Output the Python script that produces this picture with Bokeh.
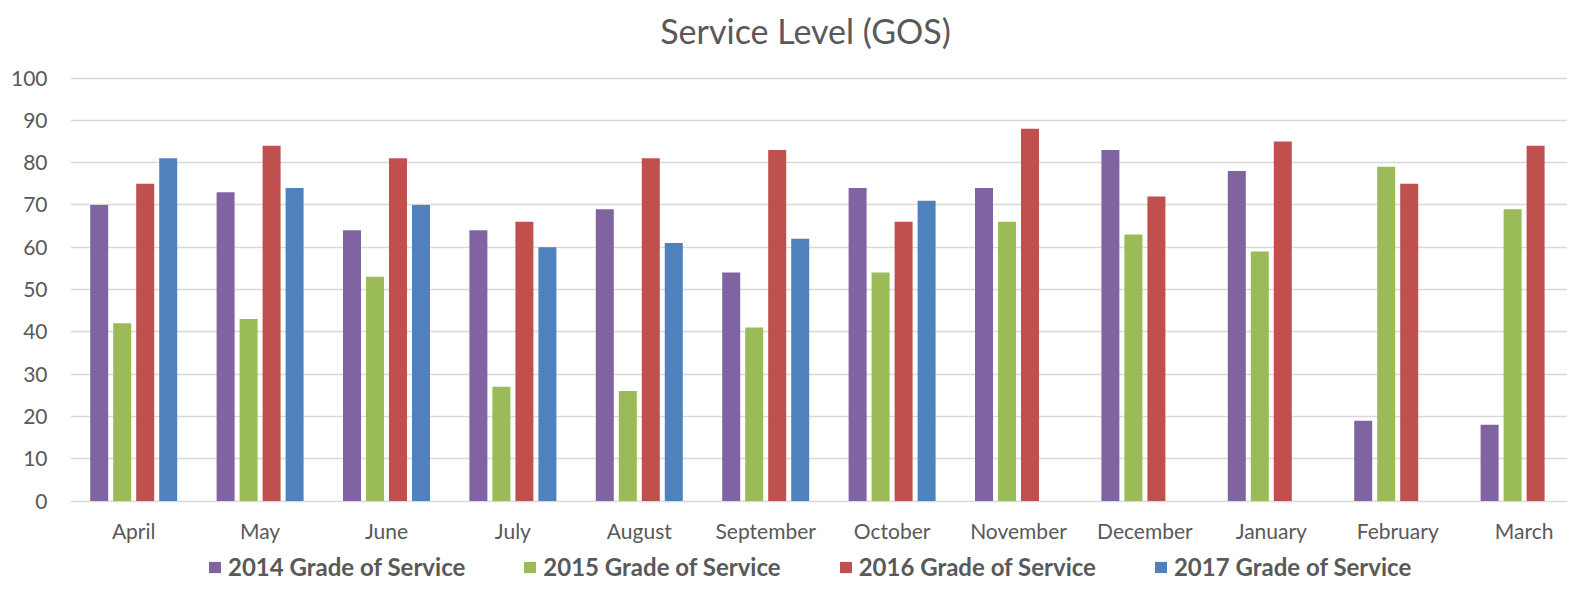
from bokeh.plotting import figure
from bokeh.models import (ColumnDataSource, Range1d, FixedTicker, Legend, LegendItem)
from bokeh.transform import dodge
from bokeh.core.properties import value
from bokeh.embed import file_html
from bokeh.resources import INLINE

NaN = float("nan")

months = ["April", "May", "June", "July", "August", "September",
          "October", "November", "December", "January", "February", "March"]
gos_2014 = [70, 73, 64, 64, 69, 54, 74, 74, 83, 78, 19, 18]
gos_2015 = [42, 43, 53, 27, 26, 41, 54, 66, 63, 59, 79, 69]
gos_2016 = [75, 84, 81, 66, 81, 83, 66, 88, 72, 85, 75, 84]
gos_2017 = [81, 74, 70, 60, 61, 62, 71, NaN, NaN, NaN, NaN, NaN]
series_names = ["2014 Grade of Service", "2015 Grade of Service",
                "2016 Grade of Service", "2017 Grade of Service"]
y_ticks = [0, 10, 20, 30, 40, 50, 60, 70, 80, 90, 100]
title_text = "Service Level (GOS)"

colors = ["#8064A2", "#9BBB59", "#C0504D", "#4F81BD"]
text_color = "#595959"
grid_color = "#D9D9D9"
FONT = "Lato"

# layout (pixels)
W, H = 1567, 582
LEFT = 70                 # space for the y axis
CAT_PX = 126.4            # width of one month category
PX_PER_UNIT = 423 / 100   # 0..100 spans 423 px
TOP_PAD = 77.5            # frame top -> value 100
BOTTOM_PAD = H - TOP_PAD - 423  # value 0 -> frame bottom

x_end = (W - LEFT) / CAT_PX
y_max = 100 + TOP_PAD / PX_PER_UNIT
y_min = -BOTTOM_PAD / PX_PER_UNIT

centers = [i + 0.5 for i in range(len(months))]
source = ColumnDataSource(dict(x=centers, s2014=gos_2014, s2015=gos_2015,
                               s2016=gos_2016, s2017=gos_2017))

p = figure(width=W, height=H, output_backend="svg", toolbar_location=None,
           x_range=Range1d(0, x_end), y_range=Range1d(y_min, y_max),
           min_border_left=LEFT, min_border_right=0, min_border_top=0,
           min_border_bottom=0)

slot = 23 / CAT_PX
bw = 18 / CAT_PX
cols = ["s2014", "s2015", "s2016", "s2017"]
renderers = []
for k, (c, col) in enumerate(zip(colors, cols)):
    off = (k - 1.5) * slot
    r = p.vbar(x=dodge("x", off, range=p.x_range), top=col, bottom=0, width=bw,
               source=source, fill_color=c, line_color=None)
    renderers.append(r)

# month labels under the bars
label_src = ColumnDataSource(dict(x=centers, y=[-29.5 / PX_PER_UNIT] * len(months), t=months))
p.text(x="x", y="y", text="t", source=label_src, text_align="center",
       text_baseline="middle", text_font=value(FONT), text_font_size="21px",
       text_color=text_color)

# title
p.text(x=[(806 - 71) / CAT_PX], y=[100 + (78 - 30) / PX_PER_UNIT], text=[title_text],
       text_align="center", text_baseline="middle", text_font=value(FONT),
       text_font_size="34px", text_color=text_color)

p.outline_line_color = None
p.background_fill_color = "white"
p.border_fill_color = "white"

p.xgrid.grid_line_color = None
p.ygrid.grid_line_color = grid_color
p.ygrid.grid_line_width = 1.3
p.ygrid.ticker = FixedTicker(ticks=y_ticks)

p.xaxis.visible = False

p.yaxis.ticker = FixedTicker(ticks=y_ticks)
p.yaxis.axis_line_color = None
p.yaxis.major_tick_line_color = None
p.yaxis.minor_tick_line_color = None
p.yaxis.major_label_text_font = FONT
p.yaxis.major_label_text_font_size = "21px"
p.yaxis.major_label_text_color = text_color
p.yaxis.major_label_standoff = 17

legend = Legend(items=[LegendItem(label=n, renderers=[r]) for n, r in zip(series_names, renderers)],
                orientation="horizontal", location=(137, 1),
                label_text_font=FONT, label_text_font_size="24px",
                label_text_font_style="bold", label_text_color=text_color,
                glyph_width=15, glyph_height=14, label_standoff=6, spacing=57,
                border_line_color=None, background_fill_alpha=0,
                padding=0, margin=0)
p.add_layout(legend, "center")

open("out.html", "w").write(file_html(p, INLINE))
